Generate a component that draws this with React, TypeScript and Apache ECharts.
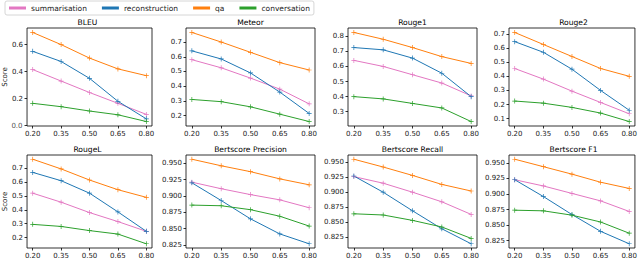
import React, { useEffect, useRef } from "react";
import * as echarts from "echarts";

const thresholds = [0.2, 0.35, 0.5, 0.65, 0.8];
const metrics = ["BLEU", "Meteor", "Rouge1", "Rouge2", "RougeL", "Bertscore Precision", "Bertscore Recall", "Bertscore F1"];
const taskNames = ["summarisation", "reconstruction", "qa", "conversation"];
const taskColors = ["#e377c2", "#1f77b4", "#ff7f0e", "#2ca02c"];

// rows: BLEU, Meteor, Rouge1, Rouge2, RougeL, BS Precision, BS Recall, BS F1
const summarisation = [
  [0.415, 0.33, 0.245, 0.165, 0.083],
  [0.58, 0.525, 0.455, 0.38, 0.28],
  [0.64, 0.6, 0.545, 0.49, 0.405],
  [0.455, 0.38, 0.295, 0.215, 0.135],
  [0.52, 0.455, 0.38, 0.315, 0.245],
  [0.921, 0.911, 0.902, 0.894, 0.882],
  [0.926, 0.915, 0.9, 0.884, 0.863],
  [0.923, 0.913, 0.901, 0.889, 0.872],
];
const reconstruction = [
  [0.55, 0.475, 0.35, 0.18, 0.05],
  [0.64, 0.585, 0.49, 0.36, 0.215],
  [0.725, 0.71, 0.655, 0.555, 0.4],
  [0.645, 0.57, 0.45, 0.3, 0.16],
  [0.67, 0.61, 0.52, 0.385, 0.245],
  [0.92, 0.893, 0.865, 0.842, 0.827],
  [0.927, 0.9, 0.869, 0.839, 0.814],
  [0.923, 0.896, 0.867, 0.84, 0.82],
];
const qa = [
  [0.69, 0.6, 0.5, 0.42, 0.37],
  [0.765, 0.7, 0.63, 0.56, 0.51],
  [0.825, 0.78, 0.725, 0.665, 0.62],
  [0.71, 0.625, 0.54, 0.455, 0.4],
  [0.765, 0.695, 0.615, 0.545, 0.49],
  [0.956, 0.946, 0.937, 0.926, 0.917],
  [0.955, 0.942, 0.928, 0.913, 0.902],
  [0.956, 0.944, 0.932, 0.919, 0.909],
];
const conversation = [
  [0.165, 0.14, 0.108, 0.08, 0.03],
  [0.31, 0.295, 0.26, 0.21, 0.16],
  [0.4, 0.385, 0.355, 0.325, 0.235],
  [0.225, 0.21, 0.18, 0.14, 0.08],
  [0.295, 0.28, 0.25, 0.225, 0.155],
  [0.886, 0.885, 0.879, 0.869, 0.854],
  [0.864, 0.862, 0.853, 0.842, 0.823],
  [0.874, 0.873, 0.866, 0.855, 0.837],
];

const yTicks = [
  [0.0, 0.2, 0.4, 0.6],
  [0.2, 0.3, 0.4, 0.5, 0.6, 0.7],
  [0.3, 0.4, 0.5, 0.6, 0.7, 0.8],
  [0.1, 0.2, 0.3, 0.4, 0.5, 0.6, 0.7],
  [0.2, 0.3, 0.4, 0.5, 0.6, 0.7],
  [0.825, 0.85, 0.875, 0.9, 0.925, 0.95],
  [0.825, 0.85, 0.875, 0.9, 0.925, 0.95],
  [0.825, 0.85, 0.875, 0.9, 0.925, 0.95],
];
const yDecimals = [1, 1, 1, 1, 1, 3, 3, 3];

const FONT = "DejaVu Sans";
const PLUS = "path://M4.3 0H5.7V4.3H10V5.7H5.7V10H4.3V5.7H0V4.3H4.3Z";

const colLefts = [23, 186, 348, 509];
const colWidth = 129;
const rowTops = [28, 155];
const rowHeights = [98, 93];
const LABEL_MARGIN = 4;
const X_MIN = 0.17;
const X_MAX = 0.83;

export default function App() {
  const ref = useRef<HTMLDivElement>(null);
  useEffect(() => {
    if (!ref.current) return;
    const chart = echarts.init(ref.current, undefined, { renderer: "svg" });
    const allData = [summarisation, reconstruction, qa, conversation];
    const grids: any[] = [];
    const xAxes: any[] = [];
    const yAxes: any[] = [];
    const series: any[] = [];
    const graphics: any[] = [];
    metrics.forEach((m, i) => {
      const r = Math.floor(i / 4);
      const c = i % 4;
      grids.push({
        left: colLefts[c],
        top: rowTops[r],
        width: colWidth,
        height: rowHeights[r],
        show: true,
        borderColor: "#000",
        borderWidth: 0.8,
        backgroundColor: "transparent",
        containLabel: false,
      });
      const vals = allData.flatMap((d) => d[i]);
      const lo = Math.min(...vals);
      const hi = Math.max(...vals);
      const pad = (hi - lo) * 0.05;
      xAxes.push({
        type: "value",
        gridIndex: i,
        min: X_MIN,
        max: X_MAX,
        axisLine: { show: false, onZero: false },
        splitLine: { show: false },
        axisTick: { show: true, length: 2.5, lineStyle: { color: "#000", width: 0.8 }, customValues: thresholds },
        axisLabel: {
          customValues: thresholds,
          formatter: (v: number) => v.toFixed(2),
          fontSize: 7,
          color: "#222",
          fontFamily: FONT,
          margin: LABEL_MARGIN,
        },
      });
      yAxes.push({
        type: "value",
        gridIndex: i,
        min: lo - pad,
        max: hi + pad,
        axisLine: { show: false, onZero: false },
        splitLine: { show: false },
        axisTick: { show: true, length: 2.5, lineStyle: { color: "#000", width: 0.8 }, customValues: yTicks[i] },
        axisLabel: {
          customValues: yTicks[i].filter((v) => v !== 0),
          formatter: (v: number) => v.toFixed(yDecimals[i]),
          fontSize: 7,
          color: "#222",
          fontFamily: FONT,
          margin: LABEL_MARGIN,
        },
        name: c === 0 ? "Score" : "",
        nameLocation: "middle",
        nameGap: 16,
        nameRotate: 90,
        nameTextStyle: { fontSize: 7, color: "#222", fontFamily: FONT },
      });
      taskNames.forEach((t, k) => {
        series.push({
          name: t,
          type: "line",
          xAxisIndex: i,
          yAxisIndex: i,
          data: thresholds.map((x, j) => [x, allData[k][i][j]]),
          symbol: PLUS,
          symbolSize: 5,
          showSymbol: true,
          lineStyle: { color: taskColors[k], width: 1 },
          itemStyle: { color: taskColors[k], borderWidth: 0 },
          color: taskColors[k],
        });
      });
      // zero tick label at the corner, drawn as a label anchored through the axis scale
      const zeroTicks = yTicks[i].filter((v) => v === 0);
      if (zeroTicks.length) {
        series.push({
          name: "zero-label-" + i,
          type: "scatter",
          xAxisIndex: i,
          yAxisIndex: i,
          data: zeroTicks.map((v) => [X_MIN, v]),
          symbol: "circle",
          symbolSize: 1,
          itemStyle: { color: "rgba(0,0,0,0)" },
          silent: true,
          clip: false,
          z: 20,
          label: {
            show: true,
            position: "left",
            distance: LABEL_MARGIN,
            formatter: (p: any) => Number(p.value[1]).toFixed(yDecimals[i]),
            fontSize: 7,
            color: "#222",
            fontFamily: FONT,
          },
          labelLayout: { hideOverlap: false },
        });
      }
      graphics.push({
        type: "text",
        x: colLefts[c] + colWidth / 2,
        y: rowTops[r] - 6,
        style: {
          text: m,
          fill: "#000",
          font: `7.6px "${FONT}"`,
          align: "center",
          verticalAlign: "middle",
          textAlign: "center",
          textVerticalAlign: "middle",
        },
      });
    });
    chart.setOption({
      animation: false,
      backgroundColor: "#fff",
      legend: {
        data: taskNames,
        left: 5,
        top: 1,
        orient: "horizontal",
        itemWidth: 17,
        itemHeight: 3,
        itemGap: 15,
        icon: "rect",
        padding: [3, 4, 3, 4],
        borderColor: "#ccc",
        borderWidth: 0.8,
        borderRadius: 2,
        textStyle: { fontSize: 7.5, color: "#222", fontFamily: FONT, padding: [0, 0, 0, 0] },
      },
      grid: grids,
      xAxis: xAxes,
      yAxis: yAxes,
      series,
      graphic: graphics,
    });
    return () => chart.dispose();
  }, []);
  return <div ref={ref} style={{ position: "fixed", left: 0, top: 0, width: 640, height: 262 }} />;
}
